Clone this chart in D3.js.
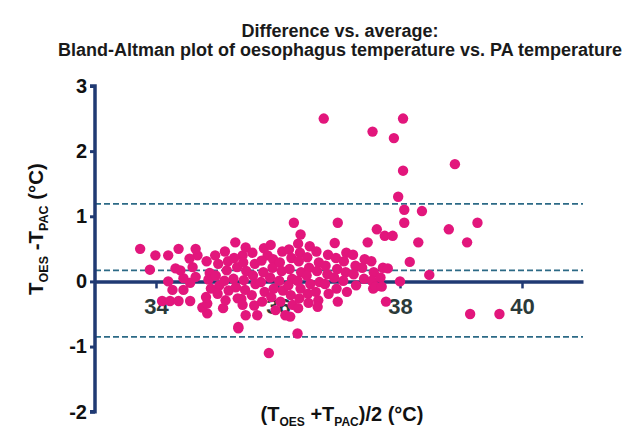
<!DOCTYPE html>
<html>
<head>
<meta charset="utf-8">
<script src="https://cdn.jsdelivr.net/npm/d3@7"></script>
<style>
  body { margin: 0; background: #fff; }
  text { font-family: "Liberation Sans", Arial, sans-serif; }
</style>
</head>
<body>
<svg id="chart" width="641" height="431"></svg>
<script>
// Average of the two readings, (T_OES + T_PAC)/2, in °C
const meanT = [
  33.74, 33.99, 34.20, 34.37, 33.90, 34.32, 34.20, 34.27, 34.45, 34.10,
  34.23, 34.37, 34.56, 34.68, 34.65, 34.56, 34.45, 34.40, 34.84, 34.76,
  34.60, 34.65, 34.55,
  35.30, 34.97, 35.42, 35.83, 35.10, 35.35, 35.47, 35.66, 35.96, 34.84, 35.40,
  34.83, 34.88, 34.86, 34.90, 34.82,
  35.02, 34.98, 35.04, 35.01,
  35.13, 35.18, 35.16, 35.12, 35.19, 35.14,
  35.28, 35.33, 35.27, 35.31, 35.34,
  35.47, 35.43, 35.48, 35.44, 35.46, 35.42,
  35.58, 35.62, 35.59, 35.63, 35.57, 35.61,
  35.77, 35.73, 35.76, 35.72, 35.78, 35.74,
  35.88, 35.92, 35.91, 35.87, 35.93, 35.89,
  36.07, 36.03, 36.06, 36.02, 36.08, 36.04, 36.12,
  36.18, 36.22, 36.19, 36.23, 36.17, 36.21, 36.24, 36.20,
  36.33, 36.36, 36.34, 36.38, 36.32, 36.37, 36.35, 36.33,
  36.52, 36.48, 36.51, 36.47, 36.53, 36.49, 36.50,
  36.63, 36.67, 36.64, 36.68, 36.62, 36.66,
  36.82, 36.78, 36.81, 36.77, 36.83,
  36.93, 36.95, 36.97, 36.92, 36.96,
  37.12, 37.08, 37.11, 37.07, 37.13,
  37.23, 37.27, 37.24, 37.28,
  37.42, 37.38, 37.41,
  37.53, 37.57, 37.54, 37.56,
  37.72, 37.68,
  35.85, 35.35, 36.32, 36.26, 36.98, 36.37, 37.47, 37.62, 37.75, 37.88,
  38.07, 38.30, 38.80, 39.27, 39.10, 38.16, 38.48, 37.80, 38.00, 37.77,
  39.15, 39.63, 38.07, 38.36, 37.97, 38.05, 38.90, 37.90, 38.05, 37.55,
  36.75, 36.98, 36.65, 37.60, 37.70
];

// Difference between the readings, T_OES - T_PAC, in °C
const diffT = [
  0.50, 0.40, 0.40, 0.50, 0.18, 0.20, 0.00, -0.13, -0.13, -0.30,
  -0.30, -0.30, -0.30, 0.40, 0.07, -0.02, 0.05, 0.17, -0.49, -0.40,
  0.22, 0.50, 0.35,
  0.60, 0.40, 0.40, 0.40, -0.41, -0.70, -0.52, -0.52, -0.44, -0.34, -0.27,
  0.31, 0.13, 0.03, -0.11, -0.24,
  0.27, 0.09, -0.06, -0.19,
  0.46, 0.31, 0.17, 0.01, -0.14, -0.29,
  0.36, 0.22, 0.04, -0.09, -0.26,
  0.52, 0.29, 0.16, 0.02, -0.13, -0.36,
  0.44, 0.27, 0.09, -0.04, -0.21, -0.37,
  0.51, 0.32, 0.14, -0.01, -0.16, -0.31,
  0.56, 0.34, 0.21, 0.06, -0.11, -0.24,
  0.46, 0.29, 0.16, 0.01, -0.14, -0.31, -0.52,
  0.49, 0.36, 0.19, 0.04, -0.06, -0.21, -0.36, -0.54,
  0.58, 0.44, 0.31, 0.14, 0.01, -0.11, -0.26, -0.41,
  0.54, 0.37, 0.21, 0.09, -0.04, -0.19, -0.33,
  0.46, 0.29, 0.16, -0.01, -0.16, -0.29,
  0.41, 0.24, 0.11, -0.04, -0.19,
  0.59, 0.36, 0.19, 0.06, -0.11,
  0.44, 0.31, 0.14, 0.01, -0.16,
  0.41, 0.24, 0.11, -0.06,
  0.34, 0.21, 0.04,
  0.31, 0.14, 0.01, -0.11,
  0.21, 0.06,
  -1.10, -0.72, -0.80, 0.90, 0.90, 0.72, 0.60, 0.80, 0.70, 0.70,
  0.90, 0.60, 0.80, 0.90, 0.60, 0.30, 0.10, 0.20, 0.00, -0.31,
  -0.50, -0.50, 1.10, 1.08, 1.30, 1.70, 1.80, 2.20, 2.50, 2.30,
  2.50, -0.31, -0.39, -0.08, -0.08
];

const xTickValues = [34, 36, 38, 40];
const yTickValues = [-2, -1, 0, 1, 2, 3];

// Bias and 95% limits of agreement (°C)
const agreementLines = [1.19, 0.17, -0.85];

const titleLines = [
  "Difference vs. average:",
  "Bland-Altman plot of oesophagus temperature vs. PA temperature"
];

const svg = d3.select("#chart");
const axisColor = "#203a73";
const hyphenInt = d => String(d);

const x = d3.scaleLinear().domain([33, 41]).range([95, 583]);
const y = d3.scaleLinear().domain([-2, 3]).range([411.7, 86]);

// Title
svg.append("g").selectAll("text")
  .data(titleLines)
  .join("text")
  .attr("x", 340)
  .attr("y", (d, i) => 37 + i * 18.5)
  .attr("text-anchor", "middle")
  .attr("font-size", 18)
  .attr("font-weight", "bold")
  .attr("fill", "#1a1a1a")
  .text(d => d);

// Bias and limits of agreement
svg.append("g").selectAll("line")
  .data(agreementLines)
  .join("line")
  .attr("x1", x(33)).attr("x2", x(41))
  .attr("y1", d => y(d)).attr("y2", d => y(d))
  .attr("stroke", "#2c6a86")
  .attr("stroke-width", 1.8)
  .attr("stroke-dasharray", "6,3");

// Y axis
const yAxis = svg.append("g")
  .attr("transform", `translate(${x(33)},0)`)
  .call(d3.axisLeft(y).tickValues(yTickValues).tickSize(5).tickFormat(hyphenInt));
yAxis.select(".domain")
  .attr("d", `M-5,${y(3)}H0V${y(-2)}H-5`)
  .attr("stroke", axisColor).attr("stroke-width", 3.5);
yAxis.selectAll(".tick line").attr("stroke", axisColor).attr("stroke-width", 3);
yAxis.selectAll(".tick text")
  .attr("x", -8)
  .attr("font-size", 20)
  .attr("font-weight", "bold")
  .attr("fill", "#111")
  .attr("font-family", "Liberation Sans, Arial, sans-serif");

// X axis along zero difference
const xAxis = svg.append("g")
  .attr("transform", `translate(0,${y(0)})`)
  .call(d3.axisBottom(x).tickValues(xTickValues).tickSize(7).tickSizeOuter(0).tickFormat(hyphenInt));
xAxis.select(".domain").attr("stroke", axisColor).attr("stroke-width", 3.5);
xAxis.selectAll(".tick line").attr("stroke", axisColor).attr("stroke-width", 2.5);
xAxis.selectAll(".tick text")
  .attr("y", 0)
  .attr("dy", 0)
  .attr("transform", "translate(0,33)")
  .attr("font-size", 22)
  .attr("font-weight", "bold")
  .attr("fill", "#2b3a3a")
  .attr("font-family", "Liberation Sans, Arial, sans-serif");

// Data points
const pts = meanT.map((m, i) => ({ m, d: diffT[i] }));
svg.append("g").selectAll("circle")
  .data(pts)
  .join("circle")
  .attr("cx", p => x(p.m))
  .attr("cy", p => y(p.d))
  .attr("r", 5.2)
  .attr("fill", "#e2167c");

// Axis titles
const yTitle = svg.append("text")
  .attr("transform", `translate(43,229) rotate(-90)`)
  .attr("text-anchor", "middle")
  .attr("font-size", 20.5)
  .attr("font-weight", "bold")
  .attr("fill", "#111");
yTitle.append("tspan").text("T");
yTitle.append("tspan").attr("font-size", 12.5).attr("dy", 5).text("OES");
yTitle.append("tspan").attr("dy", -5).text(" -T");
yTitle.append("tspan").attr("font-size", 12.5).attr("dy", 5).text("PAC");
yTitle.append("tspan").attr("dy", -5).text(" (°C)");

const xTitle = svg.append("text")
  .attr("x", 342)
  .attr("y", 421)
  .attr("text-anchor", "middle")
  .attr("font-size", 20)
  .attr("font-weight", "bold")
  .attr("fill", "#111");
xTitle.append("tspan").text("(T");
xTitle.append("tspan").attr("font-size", 12).attr("dy", 5).text("OES");
xTitle.append("tspan").attr("dy", -5).text(" +T");
xTitle.append("tspan").attr("font-size", 12).attr("dy", 5).text("PAC");
xTitle.append("tspan").attr("dy", -5).text(")/2 (°C)");
</script>
</body>
</html>
